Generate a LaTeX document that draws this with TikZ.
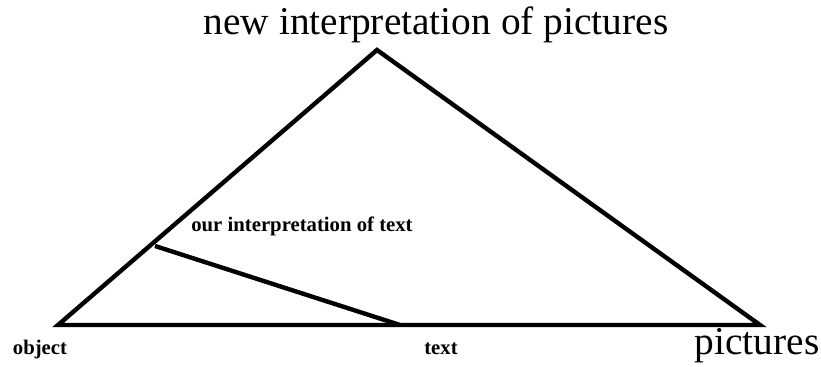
\documentclass[tikz,border=0pt]{standalone}
\usepackage{fontspec}
\setmainfont{Liberation Serif}
\usepackage{tikz}
\usetikzlibrary{calc,positioning}
\definecolor{inkBlack}{RGB}{0,0,0}

\begin{document}
\begin{tikzpicture}[x=0.1mm, y=-0.1mm, every node/.style={inner sep=0pt, text=inkBlack}]
\useasboundingbox (0,0) rectangle (821,367);
\coordinate (top) at (377,50);
\coordinate (obj) at (58,325);
\coordinate (pic) at (760,325);
\coordinate (our) at (155,246);
\coordinate (txt) at (400,325);

\node[anchor=base, font=\fontsize{11.2pt}{13pt}\selectfont] (topLabel) at (436,35) {new interpretation of pictures};
\node[anchor=base, font=\fontsize{5.9pt}{7pt}\selectfont\bfseries] (ourLabel) at (302,232) {our interpretation of text};
\node[anchor=base, font=\fontsize{5.9pt}{7pt}\selectfont\bfseries] (objLabel) at (40,355) {object};
\node[anchor=base, font=\fontsize{5.9pt}{7pt}\selectfont\bfseries] (txtLabel) at (441,355) {text};
\node[anchor=base, font=\fontsize{11.2pt}{13pt}\selectfont] (picLabel) at (757,355) {pictures};

\draw[line width=1.25pt, color=inkBlack, line join=miter] (obj)--(top)--(pic)--cycle;
\draw[line width=1.25pt, color=inkBlack] (our)--(txt);
\end{tikzpicture}
\end{document}
